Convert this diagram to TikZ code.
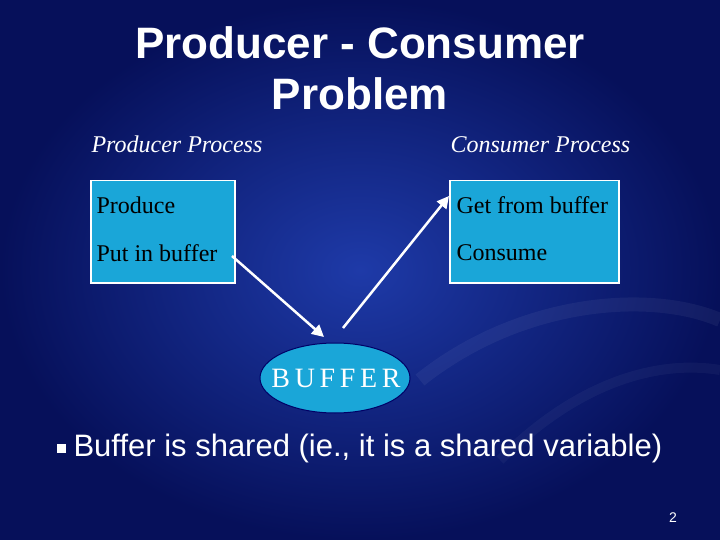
\documentclass[tikz,border=0pt]{standalone}
\usepackage{fontspec}
\setmainfont{Liberation Serif}
\newfontfamily\sans{Liberation Sans}
\usetikzlibrary{shapes.geometric,arrows.meta}
\definecolor{bgdark}{HTML}{06105A}
\definecolor{bglight}{HTML}{1E3AA8}
\definecolor{boxcyan}{HTML}{1AA6D8}
\tikzset{
  procbox/.style={draw=white,line width=1.5pt,fill=boxcyan,anchor=north west,inner sep=0pt},
  boxtxt/.style={anchor=west,text=black,font=\fontsize{24}{27}\selectfont},
  hdr/.style={anchor=west,text=white,font=\itshape\fontsize{24}{27}\selectfont},
  link/.style={draw=white,line width=2.5pt,-{Triangle[length=12pt,width=12pt]}}
}
\begin{document}
\begin{tikzpicture}[x=1pt,y=-1pt]
\useasboundingbox (0,0) rectangle (720,540);
\shade[inner color=bglight,outer color=bgdark] (0,0) rectangle (720,540);
\draw[white,opacity=0.05,line width=14pt] (420,380) .. controls (520,300) and (650,290) .. (720,320);
\draw[white,opacity=0.04,line width=10pt] (500,460) .. controls (580,380) and (660,360) .. (720,370);
\node[text=white,font=\sans\bfseries\fontsize{44}{51}\selectfont,align=center] (title) at (360,68) {Producer - Consumer\\Problem};
\node[hdr] (ph) at (88,144) {Producer Process};
\node[hdr] (ch) at (447,145) {Consumer Process};
\node[procbox,minimum width=144pt,minimum height=102pt] (pb) at (90,180) {};
\node[procbox,minimum width=169pt,minimum height=102pt] (cb) at (449,180) {};
\node[boxtxt] (p1) at (93,205) {Produce};
\node[boxtxt] (p2) at (93,253) {Put in buffer};
\node[boxtxt] (c1) at (453,205) {Get from buffer};
\node[boxtxt] (c2) at (453,253) {Consume};
\node[ellipse,draw=black!60!blue,line width=1pt,fill=boxcyan,minimum width=150pt,minimum height=70pt] (buf) at (335,378) {};
\node[text=white,font=\fontsize{28}{30}\selectfont] (buft) at (336,378) {B\,U\,F\,F\,E\,R};
\coordinate (a1) at (232,256);
\coordinate (a2) at (324,337);
\coordinate (b1) at (343,328);
\coordinate (b2) at (449,196);
\draw[link] (a1) -- (a2);
\draw[link] (b1) -- (b2);
\node[fill=white,minimum size=9pt,inner sep=0pt] (bul) at (61,448) {};
\node[anchor=west,text=white,font=\sans\fontsize{31}{34}\selectfont] (bt) at (70,448) {Buffer is shared (ie., it is a shared variable)};
\node[text=white,font=\sans\fontsize{14}{16}\selectfont] (pg) at (673,518) {2};
\end{tikzpicture}
\end{document}
